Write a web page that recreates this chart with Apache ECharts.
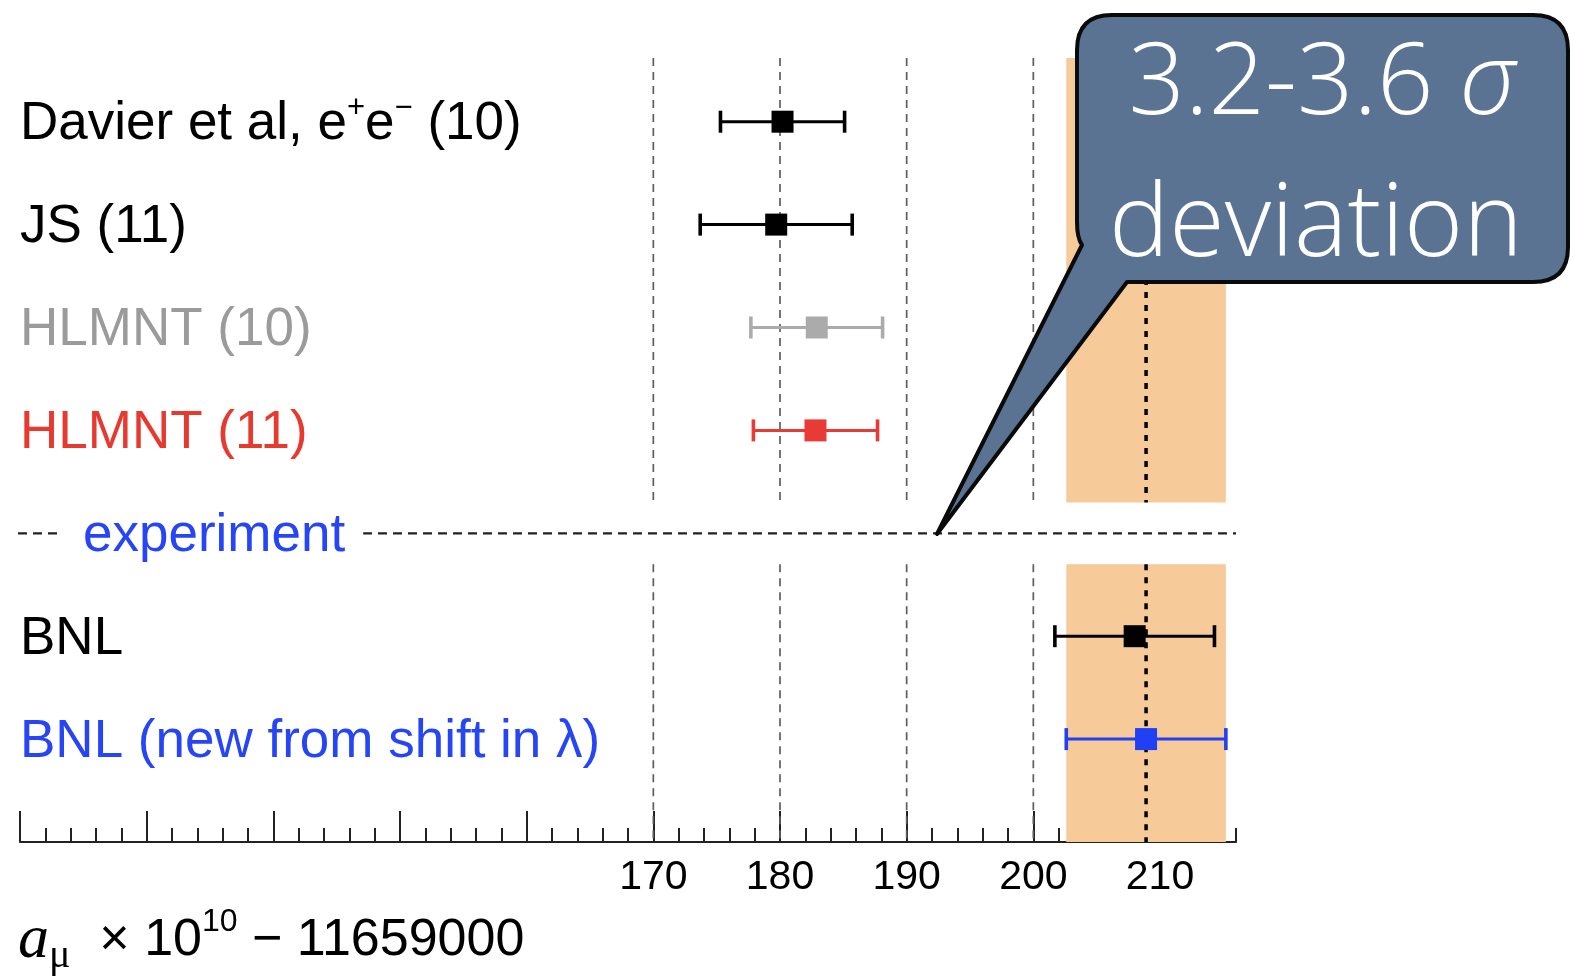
<!DOCTYPE html>
<html>
<head>
<meta charset="utf-8">
<script src="https://cdn.jsdelivr.net/npm/echarts@6/dist/echarts.min.js"></script>
<style>
  html, body { margin: 0; padding: 0; background: #ffffff; }
  #chart { width: 1575px; height: 980px; }
</style>
</head>
<body>
<div id="chart"></div>
<script>
// ---- data -----------------------------------------------------------------
// One row per determination, top to bottom; the "experiment" row is a divider.
const rowNames = ['Davier et al, e+e− (10)', 'JS (11)', 'HLMNT (10)', 'HLMNT (11)', 'experiment', 'BNL', 'BNL (new from shift in λ)'];
const centralValues = [180.2, 179.7, 182.9, 182.8, null, 208.0, 208.9];
const uncertainties = [4.9, 6.0, 5.2, 4.9, null, 6.3, 6.3];
const experimentRow = 4;
// Reference band: the updated BNL value with its uncertainty
const bandRow = 6;

// Axis ticks (a_mu x 1e10 - 11659000)
const majorTicks = [120, 130, 140, 150, 160, 170, 180, 190, 200, 210];
const minorTicks = [122, 124, 126, 128, 132, 134, 136, 138, 142, 144, 146, 148, 152, 154, 156, 158,
                    162, 164, 166, 168, 172, 174, 176, 178, 182, 184, 186, 188, 192, 194, 196, 198,
                    202, 204, 206, 208, 212, 214, 216];
const tickLabels = [170, 180, 190, 200, 210];
const gridValues = [170, 180, 190, 200];

// ---- styling ----------------------------------------------------------------
const X_MIN = 120, X_MAX = 216;
const Y_TOP = -0.62, Y_BOTTOM = 7;          // row space; the axis sits at row 7
const GAP_TOP = 3.7, GAP_BOTTOM = 4.3;      // opening around the experiment divider
const segments = [[Y_TOP, GAP_TOP], [GAP_BOTTOM, Y_BOTTOM]];

const labelColors = ['#000000', '#000000', '#9b9b9b', '#e8392f', '#2645f5', '#000000', '#2645f5'];
const markColors  = ['#000000', '#000000', '#ababab', '#e83b35', null, '#000000', '#1f40f5'];
const SANS = "'Liberation Sans', Arial, Helvetica, sans-serif";
const SERIF = "'Liberation Serif', 'Times New Roman', serif";
const LIGHT = "'Open Sans', 'Noto Sans', sans-serif";

// speech bubble outline (pixel space)
const BUBBLE_PATH = 'M 1112 15 L 1533 15 Q 1568 15 1568 50 L 1568 247 Q 1568 282 1533 282 ' +
                    'L 1127 282 L 937 534 L 1082 245 Q 1077 238 1077 222 L 1077 50 Q 1077 15 1112 15 Z';

const chart = echarts.init(document.getElementById('chart'), null, { renderer: 'canvas' });

const bandData = [[centralValues[bandRow] - uncertainties[bandRow], centralValues[bandRow] + uncertainties[bandRow], centralValues[bandRow]]];

const pointData = [];
centralValues.forEach((c, i) => {
  if (c === null) return;
  pointData.push([c, i, c - uncertainties[i], c + uncertainties[i]]);
});

const labelData = rowNames.map((n, i) => [X_MIN, i]);

function vSegments(api, xVal, style) {
  return segments.map(([a, b]) => {
    const p1 = api.coord([xVal, a]);
    const p2 = api.coord([xVal, b]);
    return { type: 'line', shape: { x1: p1[0], y1: p1[1], x2: p2[0], y2: p2[1] }, style: style };
  });
}

const textShadow = { shadowColor: 'rgba(0,0,0,0.45)', shadowBlur: 4, shadowOffsetY: 2 };

const option = {
  animation: false,
  backgroundColor: '#ffffff',
  grid: { left: 20, right: 339, top: 57.9, bottom: 138, containLabel: false },
  xAxis: [
    {
      type: 'value', min: X_MIN, max: X_MAX, position: 'bottom',
      axisLine: { show: true, onZero: false, lineStyle: { color: '#222', width: 2 } },
      axisTick: { show: true, inside: true, length: 31, customValues: majorTicks, lineStyle: { color: '#222', width: 2 } },
      axisLabel: { show: true, customValues: tickLabels, color: '#000', fontSize: 41, fontFamily: SANS, margin: 15 },
      splitLine: { show: false }
    },
    {
      type: 'value', min: X_MIN, max: X_MAX, position: 'bottom', gridIndex: 0,
      axisLine: { show: false, onZero: false },
      axisTick: { show: true, inside: true, length: 14, customValues: minorTicks, lineStyle: { color: '#222', width: 2 } },
      axisLabel: { show: false },
      splitLine: { show: false }
    }
  ],
  yAxis: { type: 'value', min: Y_TOP, max: Y_BOTTOM, inverse: true, show: false },
  series: [
    // shaded band of the new BNL value
    {
      type: 'custom', silent: true, z: 1, data: bandData,
      renderItem(params, api) {
        const children = segments.map(([a, b]) => {
          const p1 = api.coord([api.value(0), a]);
          const p2 = api.coord([api.value(1), b]);
          return { type: 'rect', shape: { x: p1[0], y: p1[1], width: p2[0] - p1[0], height: p2[1] - p1[1] }, style: { fill: '#f6cb99' } };
        });
        return { type: 'group', children };
      }
    },
    // dashed reference gridlines
    {
      type: 'custom', silent: true, z: 2, data: gridValues.map(v => [v]),
      renderItem(params, api) {
        return { type: 'group', children: vSegments(api, api.value(0), { stroke: '#5e5e5e', lineWidth: 1.7, lineDash: [8, 6] }) };
      }
    },
    // dotted centre of the band
    {
      type: 'custom', silent: true, z: 3, data: bandData.map(d => [d[2]]),
      renderItem(params, api) {
        return { type: 'group', children: vSegments(api, api.value(0), { stroke: '#000', lineWidth: 3.5, lineDash: [6, 7] }) };
      }
    },
    // horizontal divider for the experiment section
    {
      type: 'custom', silent: true, z: 3, data: [[experimentRow]],
      renderItem(params, api) {
        const p1 = api.coord([X_MIN, api.value(0)]);
        const p2 = api.coord([X_MAX, api.value(0)]);
        return { type: 'line', shape: { x1: p1[0] - 2, y1: p1[1], x2: p2[0], y2: p2[1] }, style: { stroke: '#222', lineWidth: 2.2, lineDash: [9, 6] } };
      }
    },
    // row labels
    {
      type: 'custom', silent: true, z: 5, data: labelData,
      renderItem(params, api) {
        const i = params.dataIndex;
        const p = api.coord([api.value(0), api.value(1)]);
        const isDivider = i === experimentRow;
        const style = {
          x: isDivider ? p[0] + 42 : p[0],
          y: p[1] + 3,
          fill: labelColors[i],
          fontSize: 53, fontFamily: SANS,
          align: 'left', verticalAlign: 'middle'
        };
        if (i === 0) {
          style.text = '{t|Davier et al, e}{s|+}{t|e}{s|−}{t| (10)}';
          style.rich = {
            t: { fontSize: 53, fontFamily: SANS, fill: labelColors[i], lineHeight: 64 },
            s: { fontSize: 31, fontFamily: SANS, fill: labelColors[i], lineHeight: 30, verticalAlign: 'top' }
          };
        } else {
          style.text = rowNames[i];
        }
        if (isDivider) {
          style.backgroundColor = '#ffffff';
          style.padding = [4, 18, 4, 21];
        }
        return { type: 'text', style };
      }
    },
    // error bars with square markers
    {
      type: 'custom', z: 6, data: pointData,
      encode: { x: [0, 2, 3], y: 1 },
      renderItem(params, api) {
        const row = api.value(1);
        const color = markColors[row];
        const c = api.coord([api.value(0), row]);
        const lo = api.coord([api.value(2), row]);
        const hi = api.coord([api.value(3), row]);
        const cap = 11, half = 11;
        return {
          type: 'group',
          children: [
            { type: 'line', shape: { x1: lo[0], y1: c[1], x2: hi[0], y2: c[1] }, style: { stroke: color, lineWidth: 3 } },
            { type: 'line', shape: { x1: lo[0], y1: c[1] - cap, x2: lo[0], y2: c[1] + cap }, style: { stroke: color, lineWidth: 3.6 } },
            { type: 'line', shape: { x1: hi[0], y1: c[1] - cap, x2: hi[0], y2: c[1] + cap }, style: { stroke: color, lineWidth: 3.6 } },
            { type: 'rect', shape: { x: c[0] - half, y: c[1] - half, width: 2 * half, height: 2 * half }, style: { fill: color } }
          ]
        };
      }
    },
    // speech-bubble annotation
    {
      type: 'custom', silent: true, z: 20, data: [[0]],
      renderItem() {
        return {
          type: 'group',
          children: [
            { type: 'path', shape: { pathData: BUBBLE_PATH },
              style: { fill: '#5b7393', stroke: '#0a0a0a', lineWidth: 4, lineJoin: 'round' } },
            { type: 'text', z2: 5,
              style: Object.assign({
                x: 1322, y: 86, text: '{n|3.2-3.6 }{s|σ}', align: 'center', verticalAlign: 'middle',
                rich: {
                  n: { fontSize: 99, fontFamily: LIGHT, fontWeight: 300, fill: '#ffffff', lineHeight: 110 },
                  s: { fontSize: 99, fontFamily: LIGHT, fontWeight: 300, fontStyle: 'italic', fill: '#ffffff', lineHeight: 110 }
                }
              }, textShadow) },
            { type: 'text', z2: 5,
              style: Object.assign({
                x: 1316, y: 227, text: 'deviation', align: 'center', verticalAlign: 'middle',
                fontSize: 101, fontFamily: LIGHT, fontWeight: 300, fill: '#ffffff'
              }, textShadow) }
          ]
        };
      }
    }
  ],
  graphic: [
    // axis title
    {
      type: 'text', z: 10, x: 18, y: 906,
      style: {
        text: '{a|a}{m|μ}{t|  × 10}{p|10}{t| − 11659000}',
        align: 'left', verticalAlign: 'top',
        rich: {
          a: { fontSize: 62, fontFamily: SERIF, fontStyle: 'italic', fill: '#000', lineHeight: 70 },
          m: { fontSize: 40, fontFamily: SERIF, fill: '#000', lineHeight: 38, verticalAlign: 'bottom' },
          t: { fontSize: 52, fontFamily: SANS, fill: '#000', lineHeight: 70 },
          p: { fontSize: 32, fontFamily: SANS, fill: '#000', lineHeight: 28, verticalAlign: 'top' }
        }
      }
    }
  ]
};

chart.setOption(option);
</script>
</body>
</html>
